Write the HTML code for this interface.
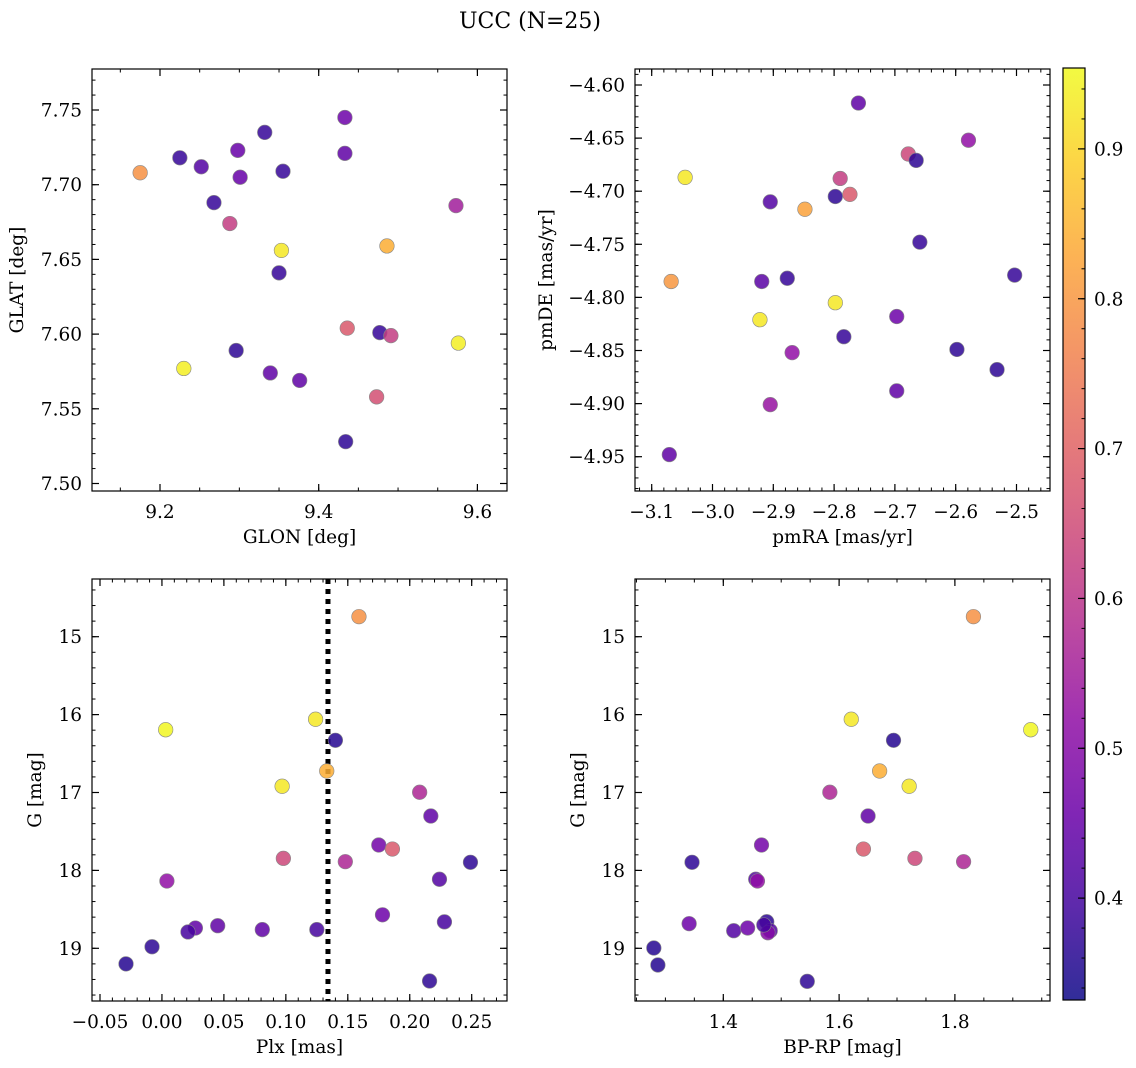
<!DOCTYPE html>
<html><head><meta charset="utf-8"><style>
html,body{margin:0;padding:0;background:#fff;}
svg{display:block;font-family:"DejaVu Serif","Liberation Serif",serif;}
</style></head><body>
<svg id="fig" width="1136" height="1068" viewBox="0 0 1136 1068" xmlns="http://www.w3.org/2000/svg">
<text x="530" y="28" font-size="22" text-anchor="middle">UCC (N=25)</text>
</svg>
<script>
// ---- data ----
const glon = [9.433,9.332,9.225,9.252,9.298,9.433,9.175,9.301,9.355,9.268,9.573,9.288,9.353,9.486,9.350,9.436,9.477,9.491,9.576,9.296,9.230,9.339,9.376,9.473,9.434];
const glat = [7.745,7.735,7.718,7.712,7.723,7.721,7.708,7.705,7.709,7.688,7.686,7.674,7.656,7.659,7.641,7.604,7.601,7.599,7.594,7.589,7.577,7.574,7.569,7.558,7.528];
const probA = [0.46,0.38,0.38,0.42,0.45,0.44,0.79,0.45,0.38,0.38,0.55,0.62,0.93,0.84,0.38,0.68,0.38,0.62,0.94,0.37,0.94,0.44,0.44,0.66,0.37];
const pmra = [-2.760,-2.579,-2.678,-2.665,-3.045,-2.790,-2.774,-2.798,-2.905,-2.848,-2.659,-2.503,-2.877,-3.068,-2.919,-2.798,-2.922,-2.697,-2.784,-2.598,-2.869,-2.532,-2.697,-2.905,-3.071];
const pmde = [-4.617,-4.652,-4.665,-4.671,-4.687,-4.688,-4.703,-4.705,-4.710,-4.717,-4.748,-4.779,-4.782,-4.785,-4.785,-4.805,-4.821,-4.818,-4.837,-4.849,-4.852,-4.868,-4.888,-4.901,-4.948];
const probB = [0.44,0.52,0.64,0.37,0.93,0.62,0.68,0.37,0.42,0.82,0.38,0.38,0.38,0.80,0.43,0.93,0.93,0.46,0.38,0.37,0.52,0.37,0.44,0.53,0.44];
const plx = [0.159,0.003,0.124,0.140,0.133,0.097,0.208,0.217,0.175,0.186,0.098,0.148,0.249,0.004,0.224,0.178,0.228,0.045,0.027,0.021,0.081,0.125,-0.008,-0.029,0.216];
const gmagC = [14.743,16.194,16.06,16.33,16.724,16.92,16.997,17.302,17.674,17.726,17.845,17.888,17.896,18.136,18.114,18.57,18.66,18.71,18.74,18.79,18.76,18.76,18.98,19.20,19.42];
const probC = [0.79,0.95,0.93,0.36,0.84,0.93,0.57,0.44,0.47,0.68,0.64,0.57,0.37,0.52,0.42,0.46,0.40,0.44,0.44,0.40,0.44,0.40,0.37,0.36,0.37];
const bprp = [1.832,1.621,1.931,1.694,1.670,1.721,1.584,1.650,1.466,1.642,1.731,1.815,1.346,1.456,1.459,1.341,1.475,1.418,1.442,1.481,1.477,1.280,1.287,1.545,1.470];
const gmagD = [14.743,16.060,16.194,16.330,16.724,16.920,16.997,17.302,17.674,17.726,17.845,17.888,17.896,18.114,18.136,18.684,18.659,18.774,18.739,18.774,18.800,18.996,19.214,19.424,18.700];
const probD = [0.79,0.93,0.95,0.36,0.84,0.93,0.57,0.44,0.47,0.68,0.64,0.57,0.37,0.42,0.52,0.46,0.37,0.42,0.46,0.42,0.50,0.36,0.36,0.37,0.40];
const plxCut = [0.134];
const ticksA_x = [9.2,9.4,9.6], ticksA_y = [7.50,7.55,7.60,7.65,7.70,7.75];
const ticksB_x = [-3.1,-3.0,-2.9,-2.8,-2.7,-2.6,-2.5], ticksB_y = [-4.60,-4.65,-4.70,-4.75,-4.80,-4.85,-4.90,-4.95];
const ticksC_x = [-0.05,0.00,0.05,0.10,0.15,0.20,0.25], ticksG = [15,16,17,18,19];
const ticksD_x = [1.4,1.6,1.8];
const cbTicks = [0.4,0.5,0.6,0.7,0.8,0.9];
const vmin = 0.332, vmax = 0.954;

const FS = 18.5;
const NS = "http://www.w3.org/2000/svg";
const svg = document.getElementById('fig');
function mk(tag, attrs, parent){const e=document.createElementNS(NS,tag);for(const k in attrs)e.setAttribute(k,attrs[k]);(parent||svg).appendChild(e);return e;}
const plasmaStops=["#0d0887","#41049d","#6a00a8","#8f0da4","#b12a90","#cc4778","#e16462","#f2844b","#fca636","#fcce25","#f0f921"];
function hex(h){return [1,3,5].map(i=>parseInt(h.substr(i,2),16));}
function plasma(t){t=Math.max(0,Math.min(1,t));const p=t*10,i=Math.min(9,Math.floor(p)),f=p-i;const a=hex(plasmaStops[i]),b=hex(plasmaStops[i+1]);return 'rgb('+a.map((v,k)=>Math.round(v+(b[k]-v)*f)).join(',')+')';}
function cval(v){return plasma((v-vmin)/(vmax-vmin));}

function panel(cfg){
  const g=mk('g',{});
  
  
  const {L,T,R,B}=cfg;
  const sx=v=>cfg.px0+(v-cfg.vx0)*cfg.kx;
  const sy=v=>cfg.py0+(v-cfg.vy0)*cfg.ky;
  const clip='clip-'+cfg.name;
  const cp=mk('clipPath',{id:clip},g);mk('rect',{x:L,y:T,width:R-L,height:B-T},cp);
  const pts=mk('g',{'clip-path':'url(#'+clip+')'},g);
  if(cfg.vline){for(const v of cfg.vline){const l=mk('line',{x1:sx(v),x2:sx(v),y1:T,y2:B,stroke:'#000','stroke-width':5,'stroke-dasharray':'5,5'},pts);
    
    }}
  for(let i=0;i<cfg.xs.length;i++){
    const c=mk('circle',{cx:sx(cfg.xs[i]),cy:sy(cfg.ys[i]),r:7.3,fill:cval(cfg.cs[i]),'fill-opacity':0.85,stroke:'#888','stroke-width':0.6},pts);
    
    
  }
  mk('rect',{x:L,y:T,width:R-L,height:B-T,fill:'none',stroke:'#000','stroke-width':1.2},g);
  const xmin=Math.min(cfg.vx0+(L-cfg.px0)/cfg.kx,cfg.vx0+(R-cfg.px0)/cfg.kx), xmax=Math.max(cfg.vx0+(L-cfg.px0)/cfg.kx,cfg.vx0+(R-cfg.px0)/cfg.kx);
  for(let v=Math.ceil(xmin/cfg.mx-1e-6)*cfg.mx; v<=xmax+1e-9; v+=cfg.mx){const x=sx(v);if(x<L-0.5||x>R+0.5)continue;
    mk('line',{x1:x,x2:x,y1:B,y2:B-3.5,stroke:'#000','stroke-width':1},g);mk('line',{x1:x,x2:x,y1:T,y2:T+3.5,stroke:'#000','stroke-width':1},g);}
  for(const v of cfg.tx){const x=sx(v);
    mk('line',{x1:x,x2:x,y1:B,y2:B-7,stroke:'#000','stroke-width':1.2},g);mk('line',{x1:x,x2:x,y1:T,y2:T+7,stroke:'#000','stroke-width':1.2},g);
    const t=mk('text',{x:x,y:B+27,'font-size':FS,'text-anchor':'middle'},g);t.textContent=(v<0?'\u2212':'')+Math.abs(v).toFixed(cfg.dx);
    
    }
  const ymin=Math.min(cfg.vy0+(T-cfg.py0)/cfg.ky,cfg.vy0+(B-cfg.py0)/cfg.ky), ymax=Math.max(cfg.vy0+(T-cfg.py0)/cfg.ky,cfg.vy0+(B-cfg.py0)/cfg.ky);
  for(let v=Math.ceil(ymin/cfg.my-1e-6)*cfg.my; v<=ymax+1e-9; v+=cfg.my){const y=sy(v);if(y<T-0.5||y>B+0.5)continue;
    mk('line',{x1:L,x2:L+3.5,y1:y,y2:y,stroke:'#000','stroke-width':1},g);mk('line',{x1:R,x2:R-3.5,y1:y,y2:y,stroke:'#000','stroke-width':1},g);}
  for(const v of cfg.ty){const y=sy(v);
    mk('line',{x1:L,x2:L+7,y1:y,y2:y,stroke:'#000','stroke-width':1.2},g);mk('line',{x1:R,x2:R-7,y1:y,y2:y,stroke:'#000','stroke-width':1.2},g);
    const t=mk('text',{x:L-10,y:y+6.5,'font-size':FS,'text-anchor':'end'},g);t.textContent=(v<0?'\u2212':'')+Math.abs(v).toFixed(cfg.dy);
    
    }
  const xl=mk('text',{x:(L+R)/2,y:B+52,'font-size':FS,'text-anchor':'middle'},g);xl.textContent=cfg.xlabel;
  
  
  const yl=mk('text',{x:0,y:0,'font-size':FS,'text-anchor':'middle',transform:'translate('+cfg.ylx+','+(T+B)/2+') rotate(-90)'},g);yl.textContent=cfg.ylabel;
  
  
}

panel({name:'glon-glat-panel',L:92,T:69,R:507,B:491,px0:160,vx0:9.2,kx:793.5,py0:110,vy0:7.75,ky:-1494,
  xs:glon,ys:glat,cs:probA,tx:ticksA_x,ty:ticksA_y,mx:0.05,my:0.01,dx:1,dy:2,xlabel:'GLON [deg]',ylabel:'GLAT [deg]',ylx:23});
panel({name:'pmra-pmde-panel',L:635,T:69,R:1050,B:491,px0:651.7,vx0:-3.1,kx:608,py0:85,vy0:-4.60,ky:-1062,
  xs:pmra,ys:pmde,cs:probB,tx:ticksB_x,ty:ticksB_y,mx:0.02,my:0.01,dx:1,dy:2,xlabel:'pmRA [mas/yr]',ylabel:'pmDE [mas/yr]',ylx:552});
panel({name:'plx-g-panel',L:92,T:579,R:507,B:1001,px0:100,vx0:-0.05,kx:1239,py0:636.7,vy0:15,ky:77.9,
  xs:plx,ys:gmagC,cs:probC,tx:ticksC_x,ty:ticksG,mx:0.01,my:0.2,dx:2,dy:0,xlabel:'Plx [mas]',ylabel:'G [mag]',ylx:41,vline:plxCut});
panel({name:'bprp-g-panel',L:635,T:579,R:1050,B:1001,px0:723.3,vx0:1.4,kx:579,py0:636.7,vy0:15,ky:77.9,
  xs:bprp,ys:gmagD,cs:probD,tx:ticksD_x,ty:ticksG,mx:0.05,my:0.2,dx:1,dy:0,xlabel:'BP-RP [mag]',ylabel:'G [mag]',ylx:584});

const cb=mk('g',{});


const defs=mk('defs',{},cb);const lg=mk('linearGradient',{id:'cbg',x1:0,y1:1,x2:0,y2:0},defs);
for(let i=0;i<=20;i++){mk('stop',{offset:(i/20),'stop-color':plasma(i/20),'stop-opacity':0.85},lg);}
const cT=68,cB=1000,cL=1063,cR=1085;
const cy=v=>cB-(v-vmin)/(vmax-vmin)*(cB-cT);
mk('rect',{x:cL,y:cT,width:cR-cL,height:cB-cT,fill:'url(#cbg)',stroke:'#000','stroke-width':1.2},cb);
for(let v=0.34;v<vmax;v+=0.02){mk('line',{x1:cR,x2:cR-3.5,y1:cy(v),y2:cy(v),stroke:'#000','stroke-width':1},cb);}
for(const v of cbTicks){mk('line',{x1:cR,x2:cR-7,y1:cy(v),y2:cy(v),stroke:'#000','stroke-width':1.2},cb);
  const t=mk('text',{x:cR+9,y:cy(v)+6.5,'font-size':FS},cb);t.textContent=v.toFixed(1);
  
  }
</script>
</body></html>
